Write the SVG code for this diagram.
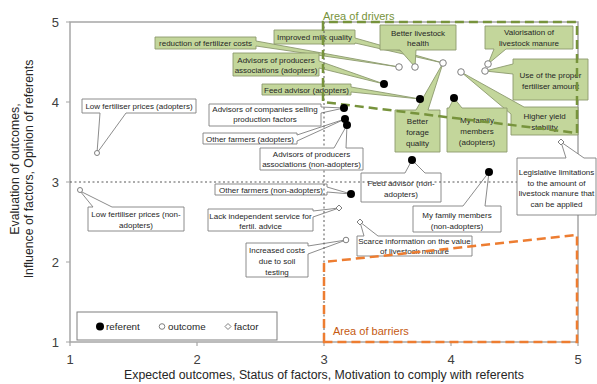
<svg xmlns="http://www.w3.org/2000/svg" width="597" height="384" viewBox="0 0 597 384">
<defs>
<style>
text{font-family:"Liberation Sans",Arial,sans-serif;fill:#262626}
.t{font-size:8px;text-anchor:middle}
.tick{font-size:13px;fill:#404040}
.title{font-size:12.3px;text-anchor:middle;fill:#262626}
.g{fill:#C3D69B;stroke:#8C9A6E;stroke-width:0.9}
.w{fill:#fff;stroke:#7F7F7F;stroke-width:0.9}
.ref{fill:#000}
.out{fill:#fff;stroke:#7F7F7F;stroke-width:1}
.fac{fill:#fff;stroke:#7F7F7F;stroke-width:1}
.grid{stroke:#595959;stroke-width:1;stroke-dasharray:2,2.5;fill:none}
.leg{font-size:9.8px}
</style>
</defs>
<rect width="597" height="384" fill="#fff"/>

<g id="axes">
<rect x="70" y="22" width="508" height="320" fill="none" stroke="#A6A6A6" stroke-width="1.5"/>
<path d="M66,22H70M66,102H70M66,182H70M66,262H70M66,342H70M70,342V346M197,342V346M324,342V346M451,342V346M578,342V346" stroke="#A6A6A6" stroke-width="1.2"/>
<text class="tick" x="59" y="26.5" text-anchor="end">5</text>
<text class="tick" x="59" y="106.5" text-anchor="end">4</text>
<text class="tick" x="59" y="186.5" text-anchor="end">3</text>
<text class="tick" x="59" y="266.5" text-anchor="end">2</text>
<text class="tick" x="59" y="346.5" text-anchor="end">1</text>
<text class="tick" x="70" y="363.5" text-anchor="middle">1</text>
<text class="tick" x="197" y="363.5" text-anchor="middle">2</text>
<text class="tick" x="324" y="363.5" text-anchor="middle">3</text>
<text class="tick" x="451" y="363.5" text-anchor="middle">4</text>
<text class="tick" x="578" y="363.5" text-anchor="middle">5</text>
<text class="title" x="324" y="379">Expected outcomes, Status of factors, Motivation to comply with referents</text>
<text class="title" transform="translate(19,169) rotate(-90)">Evaluation of outcomes,</text>
<text class="title" transform="translate(33,169) rotate(-90)">Influence of factors, Opinion of referents</text>
</g>

<g id="n-reduction">
<path class="g" d="M155,37H256V41L399,67L256,46V49H155Z"/>
<text class="t" x="205.5" y="46">reduction of fertilizer costs</text>
</g>
<g id="n-milk">
<path class="g" d="M274,30H355V38L443,63L355,43V44H274Z"/>
<text class="t" x="314.5" y="40">Improved milk quality</text>
</g>
<g id="n-adv-prod-adopt">
<path class="g" d="M233,53H319V61L384,84L319,68V76H233Z"/>
<text class="t" x="276" y="63">Advisors of producers</text>
<text class="t" x="276" y="73">associations (adopters)</text>
</g>
<g id="n-feed-adopt">
<path class="g" d="M262,84H351V87L420,99L351,92V95H262Z"/>
<text class="t" x="306.5" y="92.5">Feed advisor (adopters)</text>
</g>
<g id="n-health">
<path class="g" d="M380,25H456V50H416L415,67L400,50H380Z"/>
<text class="t" x="418" y="36">Better livestock</text>
<text class="t" x="418" y="46">health</text>
</g>
<g id="n-valorisation">
<path class="g" d="M485,26H573V49H506L488,64L494,49H485Z"/>
<text class="t" x="529" y="35">Valorisation of</text>
<text class="t" x="529" y="45.5">livestock manure</text>
</g>
<g id="n-proper">
<path class="g" d="M513,59H588V100H513V74L485,71L513,64Z"/>
<text class="t" x="550.5" y="78">Use of the proper</text>
<text class="t" x="550.5" y="89">fertiliser amount</text>
</g>
<g id="n-yield">
<path class="g" d="M524,107H578V135H511V114L461,72Z"/>
<text class="t" x="544.5" y="119">Higher yield</text>
<text class="t" x="544.5" y="129.5">stability</text>
</g>
<g id="n-forage">
<path class="g" d="M395,110H416L443,63L428,110H440V152H395Z"/>
<text class="t" x="417.5" y="124">Better</text>
<text class="t" x="417.5" y="135">forage</text>
<text class="t" x="417.5" y="146">quality</text>
</g>
<g id="n-family-adopt">
<path class="g" d="M447,108H449L454,98L462,108H507V152H447Z"/>
<text class="t" x="477" y="123">My family</text>
<text class="t" x="477" y="134">members</text>
<text class="t" x="477" y="145">(adopters)</text>
</g>

<g id="n-lowprice-adopt">
<path class="w" d="M82,99H196V113H126L97,153L100,113H82Z"/>
<text class="t" x="139" y="109">Low fertiliser prices (adopters)</text>
</g>
<g id="n-lowprice-non">
<path class="w" d="M88,207H93L80,191L112,207H184V231H88Z"/>
<text class="t" x="136" y="217">Low fertiliser prices (non-</text>
<text class="t" x="136" y="228">adopters)</text>
</g>
<g id="n-adv-comp">
<path class="w" d="M209,104H321V107L344,108L321,113V126H209Z"/>
<text class="t" x="265" y="112">Advisors of companies selling</text>
<text class="t" x="265" y="121.5">production factors</text>
</g>
<g id="n-other-adopt">
<path class="w" d="M203,133H297V135L345,119L297,141V144H203Z"/>
<text class="t" x="250" y="141.5">Other farmers (adopters)</text>
</g>
<g id="n-other-non">
<path class="w" d="M215,184H327V187L351,194L327,192V195H215Z"/>
<text class="t" x="271" y="192.5">Other farmers (non-adopters)</text>
</g>
<g id="n-lack">
<path class="w" d="M208,209H313V211L339,208L313,217V231H208Z"/>
<text class="t" x="260.5" y="219">Lack independent  service for</text>
<text class="t" x="260.5" y="228.5">fertil. advice</text>
</g>
<g id="n-costs">
<path class="w" d="M246,243H308V246L346,240L308,254V277H246Z"/>
<text class="t" x="277" y="253">Increased costs</text>
<text class="t" x="277" y="264">due to soil</text>
<text class="t" x="277" y="275">testing</text>
</g>
<g id="n-scarce">
<path class="w" d="M357,236H364L360,222L378,236H472V256H357Z"/>
<text class="t" x="414.5" y="244">Scarce information on the value</text>
<text class="t" x="414.5" y="253.5">of livestock manure</text>
</g>
<g id="n-feed-non">
<path class="w" d="M361,173H405L412,160L425,173H441V202H361Z"/>
<text class="t" x="401" y="186">Feed advisor (non-</text>
<text class="t" x="401" y="197">adopters)</text>
</g>
<g id="n-family-non">
<path class="w" d="M413,206H463L489,172L485,206H501V232H413Z"/>
<text class="t" x="457" y="218">My family members</text>
<text class="t" x="457" y="229">(non-adopters)</text>
</g>

<g id="connectors">
<path class="grid" d="M324,22V342"/>
<path class="grid" d="M70,182H578"/>
</g>

<g id="n-adv-prod-non">
<path class="w" d="M260,148H334L347,125L346,148H363V170H260Z"/>
<text class="t" x="311.5" y="156.5">Advisors of producers</text>
<text class="t" x="311.5" y="166.5">associations (non-adopters)</text>
</g>
<g id="n-legislative">
<path class="w" d="M517,158H566L561,142L584,158H596V215H517Z"/>
<text class="t" x="556.5" y="175">Legislative limitations</text>
<text class="t" x="556.5" y="185.5">to the amount of</text>
<text class="t" x="556.5" y="196">livestock manure that</text>
<text class="t" x="556.5" y="206.5">can be applied</text>
</g>

<g id="area-drivers">
<path d="M323,22V102L577,133V22Z" fill="none" stroke="#77933C" stroke-width="2.5" stroke-dasharray="9,5"/>
<text x="323" y="20" style="font-size:11px;fill:#77933C">Area of drivers</text>
</g>
<g id="area-barriers">
<path d="M324,342V262L577,235V342Z" fill="none" stroke="#ED7D31" stroke-width="2.5" stroke-dasharray="9,5"/>
<text x="333" y="335" style="font-size:11px;fill:#C55A11">Area of barriers</text>
</g>

<g id="markers">
<circle class="ref" cx="384" cy="84" r="4"/>
<circle class="ref" cx="420" cy="99" r="4"/>
<circle class="ref" cx="344" cy="108" r="4"/>
<circle class="ref" cx="345" cy="119" r="4"/>
<circle class="ref" cx="347" cy="125" r="4"/>
<circle class="ref" cx="454" cy="98" r="4"/>
<circle class="ref" cx="412" cy="160" r="4"/>
<circle class="ref" cx="489" cy="172" r="4"/>
<circle class="ref" cx="351" cy="194" r="4"/>
<circle class="out" cx="399" cy="67" r="3.3"/>
<circle class="out" cx="415" cy="67" r="3.3"/>
<circle class="out" cx="443" cy="63" r="3.3" stroke="#555"/>
<circle class="out" cx="461" cy="72" r="3.3"/>
<circle class="out" cx="488" cy="64" r="3.3"/>
<circle class="out" cx="485" cy="71" r="3.3"/>
<circle class="out" cx="97" cy="153" r="2.5"/>
<circle class="out" cx="80" cy="190" r="2.5"/>
<circle class="out" cx="346" cy="240" r="2.8"/>
<path class="fac" d="M339,205L342,208L339,211L336,208Z"/>
<path class="fac" d="M360,219L363,222L360,225L357,222Z"/>
<path class="fac" d="M561,139L564,142L561,145L558,142Z"/>
</g>

<g id="legend">
<rect x="77" y="312" width="200" height="28" fill="#fff" stroke="#7F7F7F" stroke-width="1"/>
<circle class="ref" cx="100" cy="326.5" r="4"/>
<text class="leg" x="106" y="330">referent</text>
<circle class="out" cx="162" cy="326.5" r="2.8"/>
<text class="leg" x="168" y="330">outcome</text>
<path class="fac" d="M228,323.5L231,326.5L228,329.5L225,326.5Z"/>
<text class="leg" x="234" y="330">factor</text>
</g>
</svg>
